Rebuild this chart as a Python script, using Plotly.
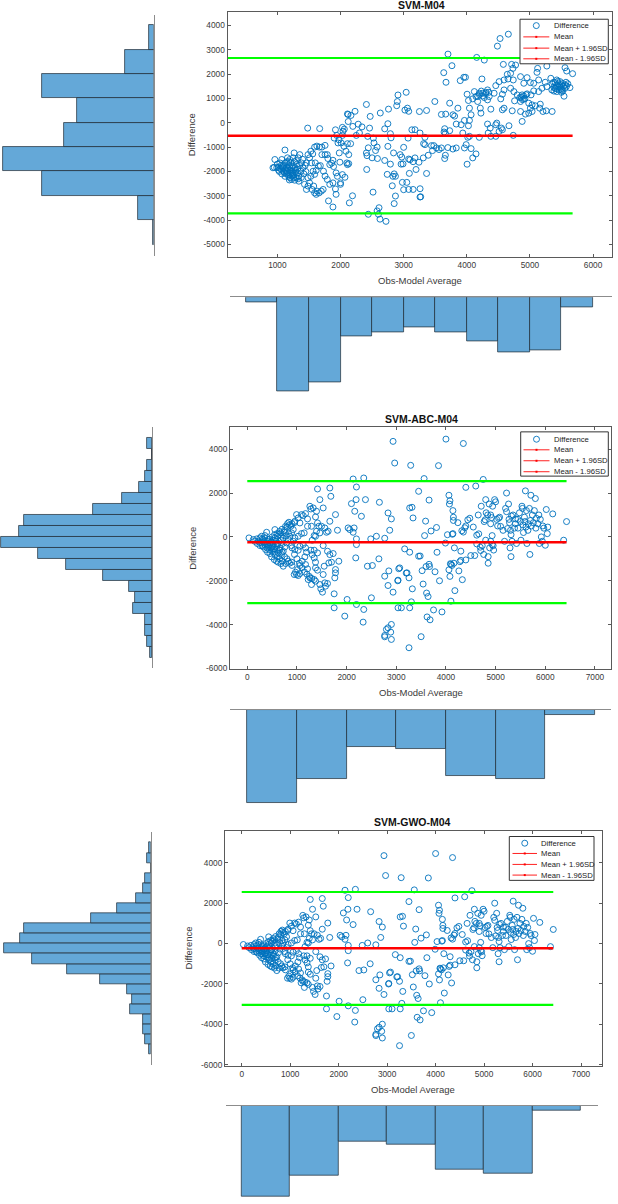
import plotly.graph_objects as go

# ------------------------------------------------------------------
# DATA
# ------------------------------------------------------------------
# Panel 1: SVM-M04  (Obs-Model Average, Difference)
svm_points = [
    (930,-1850),(960,-1510),(950,-1830),(1015,-1830),(1040,-1650),(1070,-1510),(1120,-1120),(1095,-1850),
    (1150,-1990),(1175,-2130),(1200,-2260),(1225,-2330),(1275,-2360),(1300,-2260),(1250,-2120),(1225,-1850),
    (1175,-1720),(1120,-1650),(1160,-1440),(1195,-1510),(1250,-1440),(1265,-1240),(1330,-1440),(1355,-1310),
    (1380,-1650),(1405,-1850),(1370,-1990),(1340,-2190),(1320,-2060),(1280,-1850),(1225,-1990),(1145,-1850),
    (1095,-1990),(1060,-1920),(1020,-1950),(990,-1850),(1100,-1750),(1130,-1900),(1160,-2050),(1190,-1800),
    (1210,-1650),(1240,-1780),(1260,-1950),(1290,-2050),(1310,-1700),(1180,-2200),(1140,-2100),(1200,-1950),
    (1230,-2200),(1270,-1600),(1080,-1800),(1050,-1870),(1110,-2050),(1170,-1880),(1250,-2050),(1320,-1900),
    (1350,-1750),(1150,-1600),(1300,-1550),(1210,-2080),(1190,-2350),(1340,-2400),(1000,-1700),(1030,-2000),
    (1070,-2100),(1120,-2200),(1260,-2250),(1380,-2250),(1420,-2100),(1440,-1750),(1400,-1500),(1460,-1650),
    (1450,-2000),(1060,-1750),(1130,-1950),(1240,-2150),(1290,-1950),(1180,-1600),(1330,-2300),
    (1430,-2530),(1460,-2740),(1485,-2600),(1510,-2470),(1550,-2740),(1590,-2880),(1615,-2940),(1630,-2810),
    (1660,-2880),(1695,-2810),(1725,-2740),(1575,-2600),(1485,-2260),(1530,-2200),(1565,-1990),(1590,-2120),
    (1615,-1960),(1600,-1650),(1540,-1650),(1510,-1440),(1485,-1310),(1530,-1170),(1560,-1280),(1590,-1000),
    (1625,-960),(1665,-1000),(1705,-1000),(1755,-930),(1705,-1310),(1755,-1310),(1790,-1310),(1650,-1780),
    (1680,-1760),(1730,-1990),(1755,-2190),(1790,-2330),(1830,-2530),(1880,-2470),(1920,-2720),(1830,-1720),
    (1800,-1470),(1860,-1660),(1890,-1800),(1880,-1540),(1930,-2060),(1950,-2200),(2000,-2470),(2030,-2130),
    (2070,-2240),(2100,-1650),(2110,-1720),(2130,-1680),(1810,-3210),(1880,-3460),(1930,-2940),(2000,-2530),
    (2140,-3290),(2190,-3000),(1480,-220),(1670,-240),
    (1920,-290),(1900,-630),(1940,-520),(1975,-700),(2010,-830),(1960,-830),(2055,-970),(2030,-520),
    (2040,-350),(2030,-190),(2060,-260),(2110,-860),(2160,-860),(2130,-1310),(2120,340),(2165,300),
    (2110,360),(2195,-150),(2230,470),(2250,-520),(2280,-60),(2300,-420),(2340,-170),(2410,750),
    (2470,260),(2460,-220),(2430,-560),(2440,-1030),(2420,-1350),(2410,-1240),(2520,-630),(2530,-830),
    (2555,-1140),(2580,-1000),(2500,-1440),(2585,-1470),(2122,50),(2086,-1170),(1980,-1240),(1990,-1620),
    (2415,-1920),
    (2515,-2850),(2440,-3760),(2580,-3620),(2610,-3490),(2600,-3760),(2625,-3960),(2720,-4050),
    (2630,400),(2760,560),(2750,-40),(2700,-250),(2790,-450),(2800,-620),(2750,-970),(2840,-1240),
    (2700,-1550),(2790,-1700),(2910,1140),(2900,870),(2890,700),(3040,1250),(3060,600),(3080,470),
    (3020,520),(2945,-1310),(2970,-1410),(2960,-1700),(2990,-1690),(3000,-1010),(3070,-630),(3100,-1520),
    (3080,-1490),(3150,-1600),(2980,-2450),(3050,-2450),(2870,-2200),(2850,-2100),(2820,-2590),(3150,-2740),
    (3260,-2710),(3270,-3040),(3000,-2750),(3250,460),(3130,-290),(3090,-2080),(3080,-2740),(2870,-3010),
    (2850,-3320),(2740,-2120),(2830,-2200),
    (4658,3637),(4527,3459),(4485,3146),(3702,2819),(4157,2683),(4277,2574),(3765,2343),(3635,2057),
    (3671,1662),(3896,1730),(3953,1866),(3979,1866),(4240,1798),(4579,2397),(4710,2397),(4731,2234),
    (4694,2029),(4736,1757),(4642,1989),(4773,2370),(4851,1893),(4903,1621),(4955,1852),(5007,1648),
    (5112,2070),(5122,2234),(5268,2329),(5556,2261),(5582,2125),(5676,2016),(5060,1621),(5138,1757),
    (5242,1662),(5331,1825),(5373,1662),(5425,1757),(5477,1689),(5503,1553),(5451,1485),(5399,1416),
    (5425,1280),(5347,1348),(5503,1348),(5556,1416),(5634,1444),(5571,1662),(5268,1485),(5190,1416),
    (5138,1280),(5060,1308),(5018,1144),(4955,1185),(4877,1144),(4840,1035),(4903,967),(4851,872),
    (4757,899),(4799,1144),(4746,1280),(4694,1416),(4590,1348),(4564,1171),(4538,981),(4459,1525),
    (4433,1212),(4512,1689),(4590,1757),(4653,1798),(4329,1348),(4303,1253),(4251,1212),(4277,1035),
    (4329,940),(4355,1076),(4198,1212),(4172,1076),(4120,1280),(4146,1076),(4094,981),(4005,1171),
    (4026,913),(4172,872),(4214,599),(4224,395),(4381,558),(4564,531),(4590,599),(4720,490),
    (4851,463),(4877,54),(4929,354),(4981,395),(5034,463),(5154,599),(5206,463),(5258,490),
    (5352,463),(5007,599),(5034,735),(4981,804),(5086,695),(5164,763),(5450,1600),(5480,1450),
    (5420,1550),(5530,1500),(5400,1650),(5380,1450),(5460,1350),(5500,1250),(5350,1600),(5540,1090),
    (5420,1400),(5470,1520),(5520,1610),(5560,1550),(5440,1700),(5490,1380),(5380,1300),(5520,1300),
    (5580,1500),(5600,1600),(4860,1050),(4900,1100),(4920,1000),(4880,950),(4940,1150),(4200,1150),
    (4250,1100),(4300,1200),(4350,1250),(4230,1300),
    (3781,327),(3807,272),(3666,354),(3598,340),(3729,804),(3859,599),(4042,599),(3963,95),
    (4042,95),(4068,327),(4026,-123),(3911,-82),(3833,-54),(3729,-327),(3650,-245),(3640,-381),
    (3494,872),(3363,504),(3180,-286),(3259,-422),(3337,-599),(3316,-858),(3337,-899),(3441,-940),
    (3478,-940),(3520,-1035),(3598,-1035),(3457,-1144),(3389,-1335),(3311,-1444),(3243,-1621),(3180,-1444),
    (3196,-1920),(3363,-2084),(3259,-3051),(3833,-1035),(3990,-899),(3963,-1035),(4068,-1062),(4146,-1280),
    (4094,-1444),(4005,-1703),(3650,-1471),(3661,-1335),(3661,-436),(3937,-422),(4016,-599),(4042,-558),
    (4198,-599),(4339,-422),(4381,-558),(4459,-558),(4512,-354),(4564,-286),(4459,-82),(4668,-123),
    (4736,-518),(4329,-54),(4371,-218),(4475,-14),(4548,-218),(3560,-1100),(3700,-1020),(3780,-1080),
]

# Panel 2: SVM-ABC-M04
abc_points = [
    (34,-46),(121,-121),(188,-91),(221,-197),(255,-46),(288,30),(322,-121),(355,61),(389,212),(288,-273),
    (255,-395),(322,-455),(369,-577),(409,-698),(456,-759),(489,-911),(543,-1032),(590,-1108),(623,-1154),
    (677,-1214),(724,-1336),(771,-1214),(824,-1108),(891,-1154),(422,-121),(456,-273),(489,-197),(523,-349),
    (556,-46),(556,334),(610,30),(637,106),(677,182),(690,30),(744,212),(771,486),(811,607),(838,668),
    (878,486),(925,334),(891,182),(858,30),(824,-121),(791,-273),(757,-455),(724,-653),(690,-805),(623,-729),
    (590,-577),(657,-501),(690,-349),(610,-304),(523,-546),(476,-501),(556,-805),(409,-349),(342,-243),
    (150,-200),(200,-300),(250,-250),(300,-400),(350,-350),(400,-500),(450,-600),(500,-650),(550,-700),
    (600,-900),(650,-1000),(700,-1100),(400,-200),(450,-100),(500,0),(550,100),(600,150),(650,250),
    (700,350),(750,300),(800,450),(850,550),(900,600),(950,650),(300,-100),(350,-50),(600,-400),(650,-600),
    (700,-700),(750,-900),(800,-1000),(850,-1200),(900,-1300),(500,-450),(550,-550),(450,-350),(380,-300),
    (420,-420),(480,-250),(520,-150),(580,-200),(620,-300),(680,-150),(720,-50),(780,50),(830,150),
    (900,-500),(950,-800),(1000,-1000),(1050,-1200),(1100,-1400),(1150,-1600),(1200,-1700),(1250,-1800),
    (1300,-1900),
    (958,713),(992,1017),(1025,865),(1059,638),(1092,1017),(1126,972),(1173,1063),(1213,820),(1260,1397),
    (1280,1275),(1327,1321),(1374,911),(1394,1169),(1414,638),(1441,486),(1293,486),(1213,486),(1146,182),
    (1092,152),(1025,30),(958,-46),(925,-197),(891,-395),(958,-577),(1025,-607),(1059,-425),(1126,-349),
    (1173,-501),(1193,-698),(1159,-911),(1106,-1108),(1059,-1305),(1012,-1488),(971,-1609),(945,-1715),
    (992,-1715),(1025,-1761),(1059,-1670),(1173,-1260),(1213,-1457),(1226,-1943),(1260,-1867),(1293,-2171),
    (1347,-1943),(1374,-2019),(1414,-1518),(1374,-1412),(1374,-1154),(1347,-956),(1307,-805),(1280,-607),
    (1347,-607),(1414,-729),(1307,-152),(1347,61),(1374,30),(1394,258),(1461,182),(1494,486),(1561,410),
    (1595,212),(1528,-395),(1615,-653),(1662,-805),(1695,-1154),(1642,-1184),(1548,-1336),(1528,-1715),
    (1461,-2171),(1481,-2368),(1514,-2520),(1561,-2095),(1615,-2125),(1575,-2247),(1749,-2596),(1662,713),
    (1628,258),(1414,2186),(1461,1700),(1528,1321),(1662,2231),(1682,1852),(1776,1017),(1816,304),
    (1729,-759),(1843,-1108),(1776,-1488),(1776,-1639),(1762,-1867),(1749,-3233),(1963,-3613),(2010,-2854),
    (2030,410),(2131,2641),(2198,2277),(2191,1700),(2097,1518),(2164,1169),(2151,410),(2064,334),
    (2131,212),(2298,941),(2379,1700),(2198,-91),(2198,-349),(2184,-956),(2198,-3082),(2345,-3309),
    (2332,-3886),(2499,-2778),(2345,2687),(2486,-91),(2600,30),(2660,1579),(2419,-1336),(2519,-1305),
    (2767,-1791),(2834,-2216),(2935,-2520),(2834,1093),(2901,820),(2868,304),(2767,-61),(2935,4357),
    (2968,3370),(3290,3264),(3270,1321),(3317,1351),(3337,865),(3169,-546),(3270,-698),(3069,-1412),
    (3035,-1973),(3216,-1639),(3256,-1867),(3323,-2368),(3303,-2960),(3035,-3233),(3102,-3233),(3270,-3233),
    (2901,-3992),(2834,-4144),(2801,-4220),(2767,-4493),(2888,-4342),(2901,-4675),(2767,-4554),(3256,-5055),
    (2850,-1550),(3050,-1450),(3030,-2000),(3200,-1650),(2650,-1000),
    (3450,2080),(3480,-870),(3450,-880),(3520,-1540),(3540,-2150),(3560,2660),(3570,60),(3590,720),
    (3600,-1350),(3610,-2560),(3620,-3650),(3640,-2720),(3660,1680),(3660,-1250),(3670,-1350),(3680,-3780),
    (3700,270),(3500,-4550),(3750,-3330),(3780,-1590),(3810,430),(3820,-700),(3850,3250),(3870,-2000),
    (3920,-3420),
    (4000,4460),(3990,-280),(4030,100),(4060,1900),(4070,1500),(4080,1650),(4060,-1500),(4080,-1800),
    (4090,-1220),(4100,-1250),(4100,-2930),(4120,-1300),(4140,150),(4130,120),(4140,1200),(4150,900),
    (4150,750),(4160,-1200),(4170,-500),(4180,-2450),(4240,650),(4260,-1550),(4280,-1130),(4300,-1070),
    (4300,-650),(4330,-1950),(4320,280),(4350,4260),(4350,220),(4380,420),(4400,2260),(4400,-1050),
    (4400,500),(4440,780),(4480,850),(4500,-850),(4550,450),(4580,-850),(4600,2320),(4620,-320),
    (4620,80),(4650,1000),(4660,140),(4690,-470),(4700,-620),(4710,1400),(4730,-400),(4750,2620),
    (4760,-800),(4770,700),(4790,780),(4800,1700),(4800,-150),(4810,1100),(4840,1000),(4850,-900),
    (4850,-1200),(4870,1500),(4880,-500),(4900,600),(4900,1000),(4900,-200),(4920,880),(4930,60),
    (4930,-350),(4940,1400),(4950,-400),(4960,-600),(4980,1700),(5000,1600),(5020,800),(5040,500),
    (5060,850),(5080,900),(5100,480),(5150,300),(5180,-200),(5200,1300),(5220,1150),(5220,2000),
    (5240,380),(5260,1500),(5270,800),(5280,650),(5290,-500),(5300,300),(5310,-900),(5310,100),
    (5320,950),(5330,-200),(5350,1000),(5380,400),(5400,600),(5400,820),(5420,-300),(5450,800),
    (5450,400),(5480,1100),(5500,700),(5510,-150),(5530,1400),(5540,1300),(5550,550),(5560,200),
    (5580,900),(5590,700),(5600,2100),(5610,450),(5620,1200),(5630,-300),(5650,300),(5660,600),
    (5680,1300),(5690,-800),(5700,750),(5710,1900),(5720,500),(5740,1000),(5760,650),(5780,1200),
    (5800,1750),(5810,400),(5820,850),(5850,600),(5870,1000),(5880,-300),(5900,800),(5920,0),
    (5940,-200),(5950,500),(5970,400),(6000,-380),(6020,1250),(6040,150),(6050,450),(6150,1050),
    (6370,-150),(6428,700),
]

# Panel 3: SVM-GWO-M04 (the scatter is visually identical to panel 2)
gwo_points = list(abc_points)

svm_avg = [p[0] for p in svm_points]
svm_diff = [p[1] for p in svm_points]
abc_avg = [p[0] for p in abc_points]
abc_diff = [p[1] for p in abc_points]
gwo_avg = [p[0] for p in gwo_points]
gwo_diff = [p[1] for p in gwo_points]

# mean, mean + 1.96SD, mean - 1.96SD
svm_stats = [-530, 2660, -3720]
abc_stats = [-240, 2540, -3020]
gwo_stats = [-225, 2555, -3035]

# marginal histograms: bin edges and counts
svm_diff_edges = [-5000, -4000, -3000, -2000, -1000, 0, 1000, 2000, 3000, 4000]
svm_diff_counts = [1, 16, 111, 150, 89, 77, 111, 29, 5]
svm_avg_edges = [500, 1000, 1500, 2000, 2500, 3000, 3500, 4000, 4500, 5000, 5500, 6000]
svm_avg_counts = [6, 114, 103, 47, 42, 36, 43, 54, 67, 64, 12]

abc_diff_edges = [-5500, -5000, -4500, -4000, -3500, -3000, -2500, -2000, -1500, -1000, -500,
                  0, 500, 1000, 1500, 2000, 2500, 3000, 3500, 4000, 4500]
abc_diff_counts = [1, 3, 4, 4, 10, 9, 12, 26, 45, 60, 79, 70, 67, 31, 16, 7, 4, 3, 0, 3]
abc_avg_edges = [0, 1000, 2000, 3000, 4000, 5000, 6000, 7000]
abc_avg_counts = [112, 83, 44, 47, 79, 83, 6]

gwo_diff_edges = [-5500, -5000, -4500, -4000, -3500, -3000, -2500, -2000, -1500, -1000, -500,
                  0, 500, 1000, 1500, 2000, 2500, 3000, 3500, 4000, 4500, 5000]
gwo_diff_counts = [1, 3, 4, 4, 11, 10, 13, 27, 45, 64, 79, 70, 68, 32, 18, 8, 4, 3, 0, 2, 1]
gwo_avg_edges = [0, 1000, 2000, 3000, 4000, 5000, 6000, 7000]
gwo_avg_counts = [113, 87, 45, 49, 80, 85, 6]

titles = ["SVM-M04", "SVM-ABC-M04", "SVM-GWO-M04"]
legend_labels = ["Difference", "Mean", "Mean + 1.96SD", "Mean - 1.96SD"]
x_label = "Obs-Model Average"
y_label = "Difference"

svm_xticks = [1000, 2000, 3000, 4000, 5000, 6000]
svm_yticks = [-5000, -4000, -3000, -2000, -1000, 0, 1000, 2000, 3000, 4000]
abc_xticks = [0, 1000, 2000, 3000, 4000, 5000, 6000, 7000]
abc_yticks = [-6000, -4000, -2000, 0, 2000, 4000]

# ------------------------------------------------------------------
# LAYOUT (pixel geometry of the 618 x 1204 page)
# ------------------------------------------------------------------
W, H = 618, 1204
FONT = "Liberation Sans, Arial, Helvetica, sans-serif"
BLUE = "#0072BD"
BAR_FILL = "rgb(100,168,216)"
BAR_EDGE = "rgba(25,35,45,0.85)"
AXIS_COL = "#5a5a5a"
TEXT_COL = "#3a3a3a"


def PX(x):
    return x / W


def PY(y):
    return 1 - y / H


panels = [
    dict(avg=svm_avg, diff=svm_diff, stats=svm_stats,
         dedges=svm_diff_edges, dcounts=svm_diff_counts,
         aedges=svm_avg_edges, acounts=svm_avg_counts,
         xt=svm_xticks, yt=svm_yticks,
         sx=(227.5, 612.0), sy=(12.0, 258.0), xr=(210, 6300), yr=(-5520, 4550),
         lhx=153.7, lhy=(15.0, 257.0), lhr=153.3,
         bhx=(230.0, 612.0), bhy=(298.3, 398.3), bhr=121.3,
         title_xy=(421, 5.5), ylab_x=191.7, xlab_y=281.7,
         leg=dict(box=(520, 19.3, 608.3, 64), rows=(25.7, 37, 48.3, 59), line=(523.3, 549.3), text=551.7)),
    dict(avg=abc_avg, diff=abc_diff, stats=abc_stats,
         dedges=abc_diff_edges, dcounts=abc_diff_counts,
         aedges=abc_avg_edges, acounts=abc_avg_counts,
         xt=abc_xticks, yt=abc_yticks,
         sx=(230.0, 611.0), sy=(428.3, 671.7), xr=(-348, 7323), yr=(-6045, 5018),
         lhx=152.3, lhy=(428.3, 670.0), lhr=79.7,
         bhx=(230.0, 611.0), bhy=(712.3, 812.3), bhr=119.5,
         title_xy=(421.7, 420), ylab_x=191.7, xlab_y=695,
         leg=dict(box=(520.7, 433.3, 608.3, 477.7), rows=(440.7, 451.3, 462.3, 473.3), line=(523.5, 549.5), text=552)),
    dict(avg=gwo_avg, diff=gwo_diff, stats=gwo_stats,
         dedges=gwo_diff_edges, dcounts=gwo_diff_counts,
         aedges=gwo_avg_edges, acounts=gwo_avg_counts,
         xt=abc_xticks, yt=abc_yticks,
         sx=(225.0, 601.7), sy=(833.3, 1070.0), xr=(-345, 7427), yr=(-6084, 5599),
         lhx=150.7, lhy=(835.0, 1068.3), lhr=81.0,
         bhx=(225.7, 598.3), bhy=(1109.3, 1204.0), bhr=117.6,
         title_xy=(412, 825), ylab_x=188, xlab_y=1093.3,
         leg=dict(box=(509.3, 839.3, 594, 883.3), rows=(846, 856.3, 867.3, 878), line=(512.5, 537), text=538.5)),
]

fig = go.Figure()
layout = dict(width=W, height=H, margin=dict(l=0, r=0, t=0, b=0, pad=0),
              paper_bgcolor="white", plot_bgcolor="white", showlegend=False,
              bargap=0, font=dict(family=FONT, size=8, color=TEXT_COL))
shapes = []
annotations = []


def yval(p, py):
    (t, b), (lo, hi) = p["sy"], p["yr"]
    return hi - (py - t) / (b - t) * (hi - lo)


def xval(p, px):
    (l, r), (lo, hi) = p["sx"], p["xr"]
    return lo + (px - l) / (r - l) * (hi - lo)


for i, p in enumerate(panels):
    a_sc, a_lh, a_bh = 3 * i + 1, 3 * i + 2, 3 * i + 3
    xs, ys = f"x{a_sc}", f"y{a_sc}"
    xl, yl = f"x{a_lh}", f"y{a_lh}"
    xb, yb = f"x{a_bh}", f"y{a_bh}"

    # ---- scatter of differences
    fig.add_trace(go.Scatter(x=p["avg"], y=p["diff"], mode="markers", xaxis=xs, yaxis=ys,
                             marker=dict(symbol="circle-open", size=6, color=BLUE,
                                         line=dict(width=0.9, color=BLUE)),
                             name=legend_labels[0], hoverinfo="skip"))
    # ---- mean and limits of agreement, drawn from 0 to the largest average
    xmax = max(p["avg"])
    mean, upper, lower = p["stats"]
    for val, col, w in ((upper, "#00FF00", 2.2), (lower, "#00FF00", 2.2), (mean, "#FF0000", 2.5)):
        fig.add_trace(go.Scatter(x=[0, xmax], y=[val, val], mode="lines", xaxis=xs, yaxis=ys,
                                 line=dict(color=col, width=w), hoverinfo="skip"))

    # ---- left histogram (differences), bars growing to the left
    de, dc = p["dedges"], p["dcounts"]
    fig.add_trace(go.Bar(y=[(de[k] + de[k + 1]) / 2 for k in range(len(dc))], x=dc,
                         width=[de[k + 1] - de[k] for k in range(len(dc))],
                         orientation="h", xaxis=xl, yaxis=yl,
                         marker=dict(color=BAR_FILL, line=dict(color=BAR_EDGE, width=0.8)),
                         hoverinfo="skip"))
    # ---- bottom histogram (averages), bars hanging down
    ae, ac = p["aedges"], p["acounts"]
    fig.add_trace(go.Bar(x=[(ae[k] + ae[k + 1]) / 2 for k in range(len(ac))], y=ac,
                         width=[ae[k + 1] - ae[k] for k in range(len(ac))],
                         xaxis=xb, yaxis=yb,
                         marker=dict(color=BAR_FILL, line=dict(color=BAR_EDGE, width=0.8)),
                         hoverinfo="skip"))

    sfx = lambda n: "" if n == 1 else str(n)
    tickfont = dict(family=FONT, size=8.3, color=TEXT_COL)
    # scatter axes
    layout["xaxis" + sfx(a_sc)] = dict(
        domain=[PX(p["sx"][0]), PX(p["sx"][1])], range=list(p["xr"]), anchor=ys,
        tickmode="array", tickvals=p["xt"], ticktext=[str(v) for v in p["xt"]],
        ticks="inside", ticklen=3, tickcolor=AXIS_COL, tickwidth=0.8,
        showline=True, linecolor=AXIS_COL, linewidth=1, mirror="ticks",
        showgrid=False, zeroline=False, tickfont=tickfont, fixedrange=True)
    layout["yaxis" + sfx(a_sc)] = dict(
        domain=[PY(p["sy"][1]), PY(p["sy"][0])], range=list(p["yr"]), anchor=xs,
        tickmode="array", tickvals=p["yt"], ticktext=[str(v) for v in p["yt"]],
        ticks="inside", ticklen=3, tickcolor=AXIS_COL, tickwidth=0.8,
        showline=True, linecolor=AXIS_COL, linewidth=1, mirror="ticks",
        showgrid=False, zeroline=False, tickfont=tickfont, fixedrange=True)
    # left histogram axes
    layout["xaxis" + sfx(a_lh)] = dict(
        domain=[0, PX(p["lhx"])], range=[p["lhr"], 0], anchor=yl, visible=False, fixedrange=True)
    layout["yaxis" + sfx(a_lh)] = dict(
        domain=[PY(p["lhy"][1]), PY(p["lhy"][0])],
        range=[yval(p, p["lhy"][1]), yval(p, p["lhy"][0])], anchor=xl, side="right",
        showline=True, linecolor="#8c8c8c", linewidth=1, showticklabels=False, ticks="",
        showgrid=False, zeroline=False, fixedrange=True)
    # bottom histogram axes
    layout["xaxis" + sfx(a_bh)] = dict(
        domain=[PX(p["bhx"][0]), PX(p["bhx"][1])],
        range=[xval(p, p["bhx"][0]), xval(p, p["bhx"][1])], anchor=yb, side="top",
        showline=True, linecolor="#8c8c8c", linewidth=1, showticklabels=False, ticks="",
        showgrid=False, zeroline=False, fixedrange=True)
    layout["yaxis" + sfx(a_bh)] = dict(
        domain=[PY(p["bhy"][1]), PY(p["bhy"][0])], range=[p["bhr"], 0], anchor=xb,
        visible=False, fixedrange=True)

    # ---- titles and axis labels
    tx, ty = p["title_xy"]
    annotations.append(dict(text=f"<b>{titles[i]}</b>", x=PX(tx), y=PY(ty), xref="paper", yref="paper",
                            showarrow=False, xanchor="center", yanchor="middle",
                            font=dict(family=FONT, size=10.5, color="#111111")))
    annotations.append(dict(text=x_label, x=PX((p["sx"][0] + p["sx"][1]) / 2), y=PY(p["xlab_y"]),
                            xref="paper", yref="paper", showarrow=False, xanchor="center",
                            yanchor="middle", font=dict(family=FONT, size=9.5, color=TEXT_COL)))
    annotations.append(dict(text=y_label, x=PX(p["ylab_x"]), y=PY((p["sy"][0] + p["sy"][1]) / 2),
                            xref="paper", yref="paper", showarrow=False, textangle=-90,
                            xanchor="center", yanchor="middle",
                            font=dict(family=FONT, size=9.5, color=TEXT_COL)))

    # ---- legend box (drawn like the MATLAB legend)
    lg = p["leg"]
    bx0, by0, bx1, by1 = lg["box"]
    shapes.append(dict(type="rect", xref="paper", yref="paper", x0=PX(bx0), x1=PX(bx1),
                       y0=PY(by1), y1=PY(by0), line=dict(color="#333333", width=1),
                       fillcolor="white", layer="above"))
    lx0, lx1 = lg["line"]
    cx = (lx0 + lx1) / 2
    for r, (ry, lab) in enumerate(zip(lg["rows"], legend_labels)):
        if r == 0:
            shapes.append(dict(type="circle", xref="paper", yref="paper",
                               x0=PX(cx - 3), x1=PX(cx + 3), y0=PY(ry + 3), y1=PY(ry - 3),
                               line=dict(color=BLUE, width=0.9), layer="above"))
        else:
            shapes.append(dict(type="line", xref="paper", yref="paper", x0=PX(lx0), x1=PX(lx1),
                               y0=PY(ry), y1=PY(ry), line=dict(color="#FF2020", width=1),
                               layer="above"))
            shapes.append(dict(type="rect", xref="paper", yref="paper",
                               x0=PX(cx - 1), x1=PX(cx + 1), y0=PY(ry + 1), y1=PY(ry - 1),
                               line=dict(width=0), fillcolor="#FF0000", layer="above"))
        annotations.append(dict(text=lab, x=PX(lg["text"]), y=PY(ry), xref="paper", yref="paper",
                                showarrow=False, xanchor="left", yanchor="middle",
                                font=dict(family=FONT, size=7.7, color="#222222")))

layout["shapes"] = shapes
layout["annotations"] = annotations
fig.update_layout(**layout)
fig.write_html("out.html")
